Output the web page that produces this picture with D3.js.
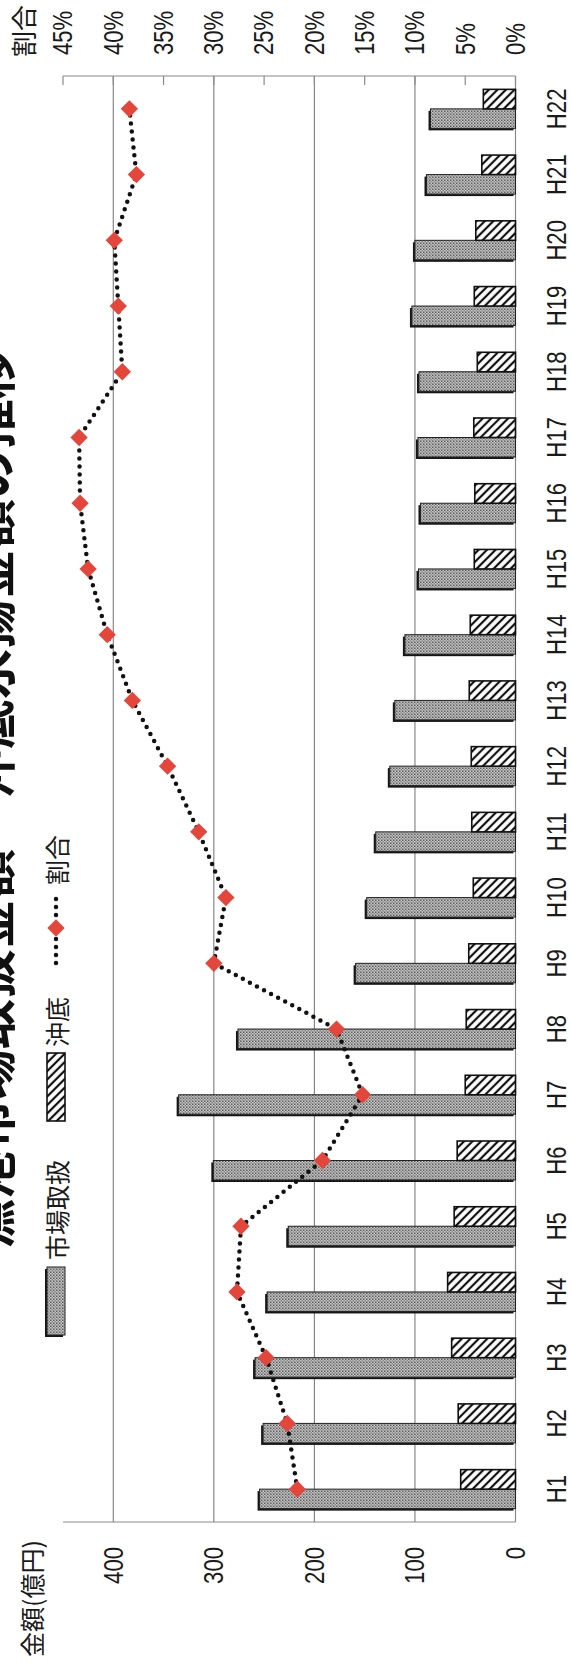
<!DOCTYPE html>
<html>
<head>
<meta charset="utf-8">
<script src="https://cdn.jsdelivr.net/npm/d3@7"></script>
<style>
  html, body { margin: 0; padding: 0; background: #ffffff; }
  svg { display: block; }
</style>
</head>
<body>
<svg id="chart" width="571" height="1669"></svg>
<script>
// ---- data ----
const categories = ["H1","H2","H3","H4","H5","H6","H7","H8","H9","H10","H11",
                    "H12","H13","H14","H15","H16","H17","H18","H19","H20","H21","H22"];
// 市場取扱 (億円)
const marketValues = [254.5, 251, 259, 247, 226, 300.5, 335, 276, 159, 148, 139,
                      125, 120, 110, 96.5, 94.5, 97, 96, 103, 100, 88.5, 84.5];
// 沖底 (億円)
const okisokoValues = [54.5, 57, 63.5, 67.5, 61, 58, 50, 49, 46.5, 42, 43.5,
                       44, 46, 45, 41, 40.5, 41.5, 38, 41, 39.5, 33.5, 32];
// 割合 (%)
const ratioValues = [21.7, 22.7, 24.8, 27.7, 27.3, 19.2, 15.2, 17.8, 30.0, 28.8, 31.5,
                     34.6, 38.1, 40.6, 42.5, 43.3, 43.4, 39.1, 39.5, 39.9, 37.7, 38.4];
const amountTicks = [0, 100, 200, 300, 400];
const ratioTicks = [0, 5, 10, 15, 20, 25, 30, 35, 40, 45];
const seriesNames = ["市場取扱", "沖底", "割合"];
const titleText = "漁港市場取扱金額・沖底水揚金額の推移";
const amountAxisTitle = "金額(億円)";
const ratioAxisTitle = "割合";

// ---- layout (chart is laid out landscape, then turned a quarter turn) ----
const W = 1669, H = 571;
const plot = { left: 147, right: 1593, top: 63, bottom: 515.5 };
const latinFont = "'Liberation Sans', Arial, sans-serif";
const cjkFont = "'Noto Sans CJK JP', sans-serif";

const svg = d3.select("#chart");
const defs = svg.append("defs");

// fine stipple used for 市場取扱
const dots = defs.append("pattern").attr("id", "stipple")
  .attr("patternUnits", "userSpaceOnUse").attr("width", 3).attr("height", 3);
dots.append("rect").attr("width", 3).attr("height", 3).attr("fill", "#c6c6c6");
dots.append("rect").attr("width", 1.5).attr("height", 1.5).attr("fill", "#5a5a5a");
dots.append("rect").attr("x", 1.5).attr("y", 1.5).attr("width", 1.5).attr("height", 1.5).attr("fill", "#8a8a8a");

// diagonal hatching used for 沖底
const hatch = defs.append("pattern").attr("id", "hatch")
  .attr("patternUnits", "userSpaceOnUse").attr("width", 6).attr("height", 6)
  .attr("patternTransform", "rotate(-45)");
hatch.append("rect").attr("width", 6).attr("height", 6).attr("fill", "#ffffff");
hatch.append("line").attr("x1", 3).attr("y1", 0).attr("x2", 3).attr("y2", 6)
  .attr("stroke", "#111").attr("stroke-width", 2.2);

const g = svg.append("g").attr("transform", `translate(0,${W}) rotate(-90)`);

// ---- scales ----
const x = d3.scaleBand().domain(categories).range([plot.left, plot.right]);
const barW = 19.5;
const sub = d3.scaleBand().domain(["market", "okisoko"])
  .range([x.bandwidth() / 2 - barW, x.bandwidth() / 2 + barW]);
const yAmount = d3.scaleLinear().domain([0, 450]).range([plot.bottom, plot.top]);
const yRatio = d3.scaleLinear().domain([0, 45]).range([plot.bottom, plot.top]);

// ---- gridlines ----
g.append("g").selectAll("line").data(amountTicks.filter(t => t > 0)).join("line")
  .attr("x1", plot.left).attr("x2", plot.right)
  .attr("y1", d => yAmount(d)).attr("y2", d => yAmount(d))
  .attr("stroke", "#7d7d7d").attr("stroke-width", 1.1);

// ---- axis lines ----
const axisColor = "#8a8a8a";
g.append("line").attr("x1", plot.left).attr("x2", plot.left)
  .attr("y1", yAmount(0)).attr("y2", yAmount(450)).attr("stroke", axisColor).attr("stroke-width", 1.2);
g.append("line").attr("x1", plot.left).attr("x2", plot.right)
  .attr("y1", yAmount(0)).attr("y2", yAmount(0)).attr("stroke", axisColor).attr("stroke-width", 1.2);
g.append("line").attr("x1", plot.right).attr("x2", plot.right)
  .attr("y1", yRatio(0)).attr("y2", yRatio(45)).attr("stroke", axisColor).attr("stroke-width", 1.2);
g.append("g").selectAll("line").data(ratioTicks).join("line")
  .attr("x1", plot.right).attr("x2", plot.right - 9)
  .attr("y1", d => yRatio(d)).attr("y2", d => yRatio(d))
  .attr("stroke", axisColor).attr("stroke-width", 1.2);

// ---- bars ----
const bars = g.append("g");
categories.forEach((c, i) => {
  const m = marketValues[i], o = okisokoValues[i];
  const mx = x(c) + sub("market"), ox = x(c) + sub("okisoko");
  // shadowed stipple bar
  bars.append("rect").attr("x", mx - 2).attr("y", yAmount(m) - 2)
    .attr("width", sub.bandwidth()).attr("height", yAmount(0) - yAmount(m))
    .attr("fill", "#161616");
  bars.append("rect").attr("x", mx).attr("y", yAmount(m))
    .attr("width", sub.bandwidth()).attr("height", yAmount(0) - yAmount(m))
    .attr("fill", "url(#stipple)").attr("stroke", "#222").attr("stroke-width", 1);
  // hatched bar
  bars.append("rect").attr("x", ox).attr("y", yAmount(o))
    .attr("width", sub.bandwidth()).attr("height", yAmount(0) - yAmount(o))
    .attr("fill", "url(#hatch)").attr("stroke", "#111").attr("stroke-width", 1.6);
});

// ---- ratio line ----
const ratioPts = categories.map((c, i) => [x(c) + x.bandwidth() / 2, yRatio(ratioValues[i])]);
g.append("path").attr("d", d3.line()(ratioPts))
  .attr("fill", "none").attr("stroke", "#111").attr("stroke-width", 4.5)
  .attr("stroke-linecap", "round").attr("stroke-dasharray", "0 8");
const diamond = d3.symbol().type(d3.symbolSquare).size(150);
g.append("g").selectAll("path").data(ratioPts).join("path")
  .attr("d", diamond)
  .attr("transform", d => `translate(${d[0]},${d[1]}) rotate(45)`)
  .attr("fill", "#e4463c");

// ---- tick labels ----
const tickSize = 27, tickScaleX = 0.82;
g.append("g").selectAll("text").data(categories).join("text")
  .attr("transform", c => `translate(${x(c) + x.bandwidth() / 2},566) scale(${tickScaleX},1)`)
  .attr("text-anchor", "middle")
  .style("font-family", latinFont).style("font-size", tickSize + "px").attr("fill", "#1a1a1a")
  .text(c => c);
g.append("g").selectAll("text").data(amountTicks).join("text")
  .attr("transform", d => `translate(122,${yAmount(d)}) scale(${tickScaleX},1)`)
  .attr("text-anchor", "end").attr("dominant-baseline", "central")
  .style("font-family", latinFont).style("font-size", tickSize + "px").attr("fill", "#1a1a1a")
  .text(d => d);
g.append("g").selectAll("text").data(ratioTicks).join("text")
  .attr("transform", d => `translate(1614,${yRatio(d)}) scale(${tickScaleX},1)`)
  .attr("text-anchor", "start").attr("dominant-baseline", "central")
  .style("font-family", latinFont).style("font-size", tickSize + "px").attr("fill", "#1a1a1a")
  .text(d => d + "%");

// ---- axis titles ----
g.append("text").attr("x", 12).attr("y", 31).attr("dominant-baseline", "central")
  .style("font-family", cjkFont).style("font-size", "25px").attr("fill", "#1a1a1a")
  .text(amountAxisTitle);
g.append("text").attr("x", 1612).attr("y", 22).attr("dominant-baseline", "central")
  .style("font-family", cjkFont).style("font-size", "26px").attr("fill", "#1a1a1a")
  .text(ratioAxisTitle);

// ---- title ----
g.append("text").attr("x", (plot.left + plot.right) / 2).attr("y", 10)
  .attr("text-anchor", "middle")
  .style("font-family", cjkFont).style("font-size", "50px").style("font-weight", "bold")
  .attr("fill", "#111").text(titleText);

// ---- legend ----
const lg = g.append("g").attr("transform", "translate(0,56)");
lg.append("rect").attr("x", 332).attr("y", -11).attr("width", 68).attr("height", 18).attr("fill", "#161616");
lg.append("rect").attr("x", 334).attr("y", -9).attr("width", 68).attr("height", 18)
  .attr("fill", "url(#stipple)").attr("stroke", "#222").attr("stroke-width", 1);
lg.append("text").attr("x", 409).attr("y", 0).attr("dominant-baseline", "central")
  .style("font-family", cjkFont).style("font-size", "25px").attr("fill", "#1a1a1a").text(seriesNames[0]);
lg.append("rect").attr("x", 548).attr("y", -9).attr("width", 68).attr("height", 18)
  .attr("fill", "url(#hatch)").attr("stroke", "#111").attr("stroke-width", 1.6);
lg.append("text").attr("x", 622).attr("y", 0).attr("dominant-baseline", "central")
  .style("font-family", cjkFont).style("font-size", "25px").attr("fill", "#1a1a1a").text(seriesNames[1]);
lg.append("path").attr("d", d3.line()([[706, 0], [772, 0]]))
  .attr("stroke", "#111").attr("stroke-width", 4.5).attr("stroke-linecap", "round")
  .attr("stroke-dasharray", "0 8");
lg.append("path").attr("d", diamond).attr("transform", "translate(741,0) rotate(45)").attr("fill", "#e4463c");
lg.append("text").attr("x", 784).attr("y", 0).attr("dominant-baseline", "central")
  .style("font-family", cjkFont).style("font-size", "25px").attr("fill", "#1a1a1a").text(seriesNames[2]);
</script>
</body>
</html>
